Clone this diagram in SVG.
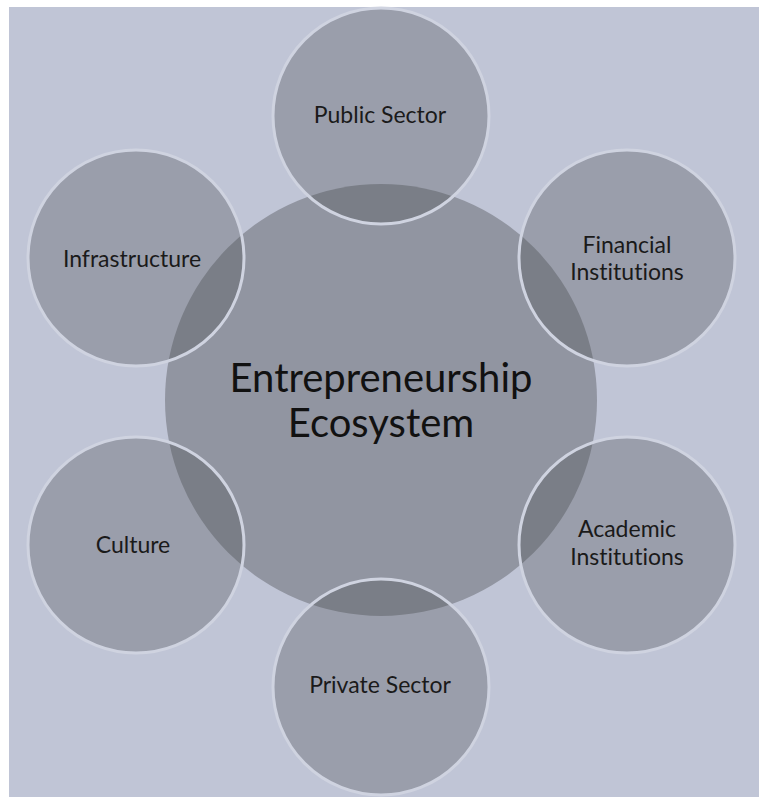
<svg xmlns="http://www.w3.org/2000/svg" width="759" height="797" viewBox="0 0 759 797">
<style>
.sat{fill:#4c4e51;fill-opacity:0.32;stroke:#cfd3e0;stroke-width:3}
.lbl{font-family:Lato,"Open Sans",sans-serif;font-size:23px;fill:#1a1a1a;text-anchor:middle;font-variant-ligatures:none}
.big{font-family:Lato,"Open Sans",sans-serif;font-size:40px;fill:#111;text-anchor:middle;font-variant-ligatures:none}
</style>
<rect x="0" y="0" width="759" height="797" fill="#ffffff"/>
<rect x="9" y="7" width="750" height="790" fill="#c0c5d6"/>
<g id="center">
<circle cx="381" cy="400" r="216" fill="#9195a1"/>
<text class="big" x="381" y="392">Entrepreneurship</text>
<text class="big" x="381" y="437">Ecosystem</text>
</g>
<g id="connectors"></g>
<g id="public-sector">
<circle class="sat" cx="381" cy="116" r="108"/>
<text class="lbl" x="380" y="123">Public Sector</text>
</g>
<g id="financial-institutions">
<circle class="sat" cx="627" cy="258" r="108"/>
<text class="lbl" x="627" y="253">Financial</text>
<text class="lbl" x="627" y="280">Institutions</text>
</g>
<g id="academic-institutions">
<circle class="sat" cx="627" cy="545" r="108"/>
<text class="lbl" x="627" y="537">Academic</text>
<text class="lbl" x="627" y="565">Institutions</text>
</g>
<g id="private-sector">
<circle class="sat" cx="381" cy="687" r="108"/>
<text class="lbl" x="380" y="693">Private Sector</text>
</g>
<g id="culture">
<circle class="sat" cx="136" cy="545" r="108"/>
<text class="lbl" x="133" y="553">Culture</text>
</g>
<g id="infrastructure">
<circle class="sat" cx="136" cy="258" r="108"/>
<text class="lbl" x="132" y="267">Infrastructure</text>
</g>
</svg>
